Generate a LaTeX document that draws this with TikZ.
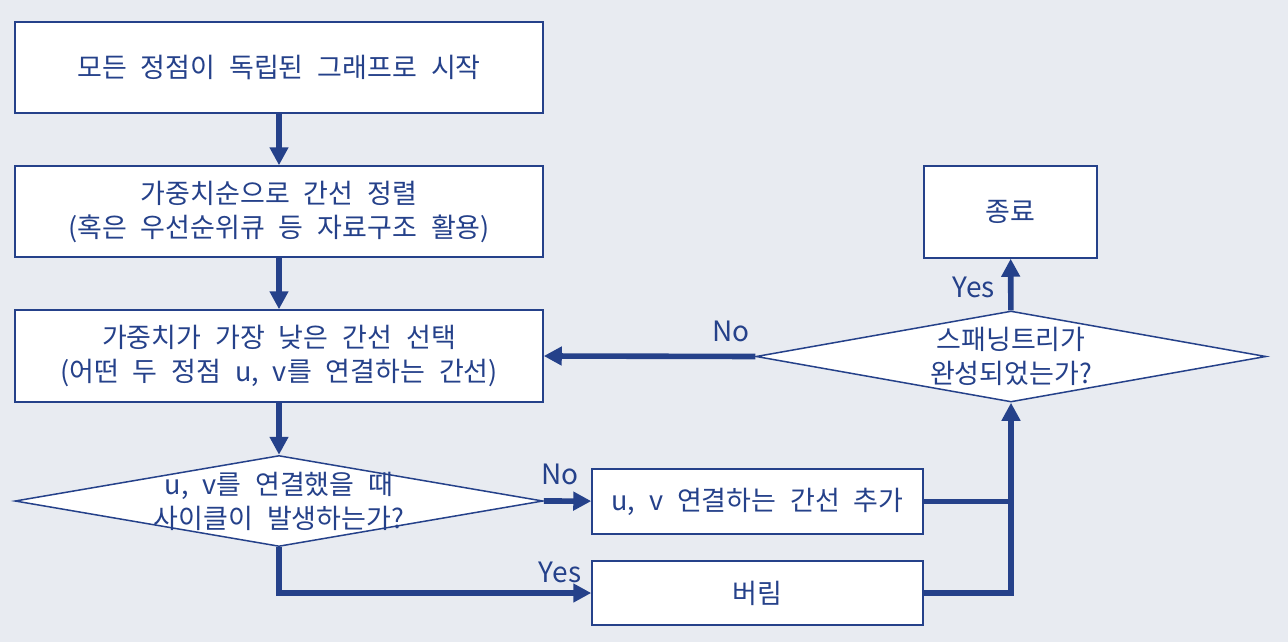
\documentclass[tikz,border=0pt]{standalone}
\usepackage{fontspec}
\setmainfont{Noto Sans CJK KR}[WordSpace=2.3]
\usetikzlibrary{shapes.geometric,arrows.meta}
\definecolor{navy}{HTML}{25418A}
\definecolor{bgray}{HTML}{E8EBF1}

\begin{document}
\begin{tikzpicture}[x=0.5pt,y=-0.5pt,font=\fontsize{13.5}{17}\selectfont,text=navy,
  box/.style={draw=navy,line width=0.75pt,fill=white,align=center,inner sep=0pt},
  dia/.style={draw=navy,line width=0.75pt,fill=white,diamond,inner sep=0pt,
    minimum width=#1,minimum height=45.5pt},
  flow/.style={draw=navy,line width=2.8pt,-{Triangle[length=9pt,width=9pt]}},
  link/.style={draw=navy,line width=2.8pt},
  lab/.style={inner sep=1pt,font=\fontsize{14}{17}\selectfont}]
\fill[bgray] (0,0) rectangle (1288,642);
% main column
\node[box,minimum width=264pt,minimum height=45.5pt] (start) at (279,67.5) {모든 정점이 독립된 그래프로 시작};
\node[box,minimum width=264pt,minimum height=45.5pt] (sort) at (279,211.5) {가중치순으로 간선 정렬\\(혹은 우선순위큐 등 자료구조 활용)};
\node[box,minimum width=264pt,minimum height=46pt] (pick) at (279,356) {가중치가 가장 낮은 간선 선택\\(어떤 두 정점 u, v를 연결하는 간선)};
\node[dia=264pt,label={[align=center]center:u, v를 연결했을 때\\사이클이 발생하는가?}] (cycle) at (279,501) {};
% right side
\node[box,minimum width=165.5pt,minimum height=32.5pt] (add) at (757.5,501.5) {u, v 연결하는 간선 추가};
\node[box,minimum width=165.5pt,minimum height=32pt] (drop) at (757.5,593) {버림};
\node[dia=255pt,label={[align=center]center:스패닝트리가\\완성되었는가?}] (tree) at (1011,356.5) {};
\node[box,minimum width=86.5pt,minimum height=46pt] (done) at (1010.5,212) {종료};
% labels
\node[lab] (no1) at (560,474) {No};
\node[lab] (yes1) at (560,572) {Yes};
\node[lab] (no2) at (731,331) {No};
\node[lab] (yes2) at (973.5,287) {Yes};
% connectors
\draw[flow] (start) -- (sort);
\draw[flow] (sort) -- (pick);
\draw[flow] (pick) -- (cycle);
\draw[flow] (cycle.east) -- (add);
\draw[flow] (cycle.south) |- (drop);
\draw[link] (add.east) -- (add.east -| tree.south);
\draw[flow] (drop.east) -| (tree.south);
\draw[flow] (tree) -- (done);
\draw[flow] (tree.west) -- (pick.east);
\end{tikzpicture}
\end{document}
